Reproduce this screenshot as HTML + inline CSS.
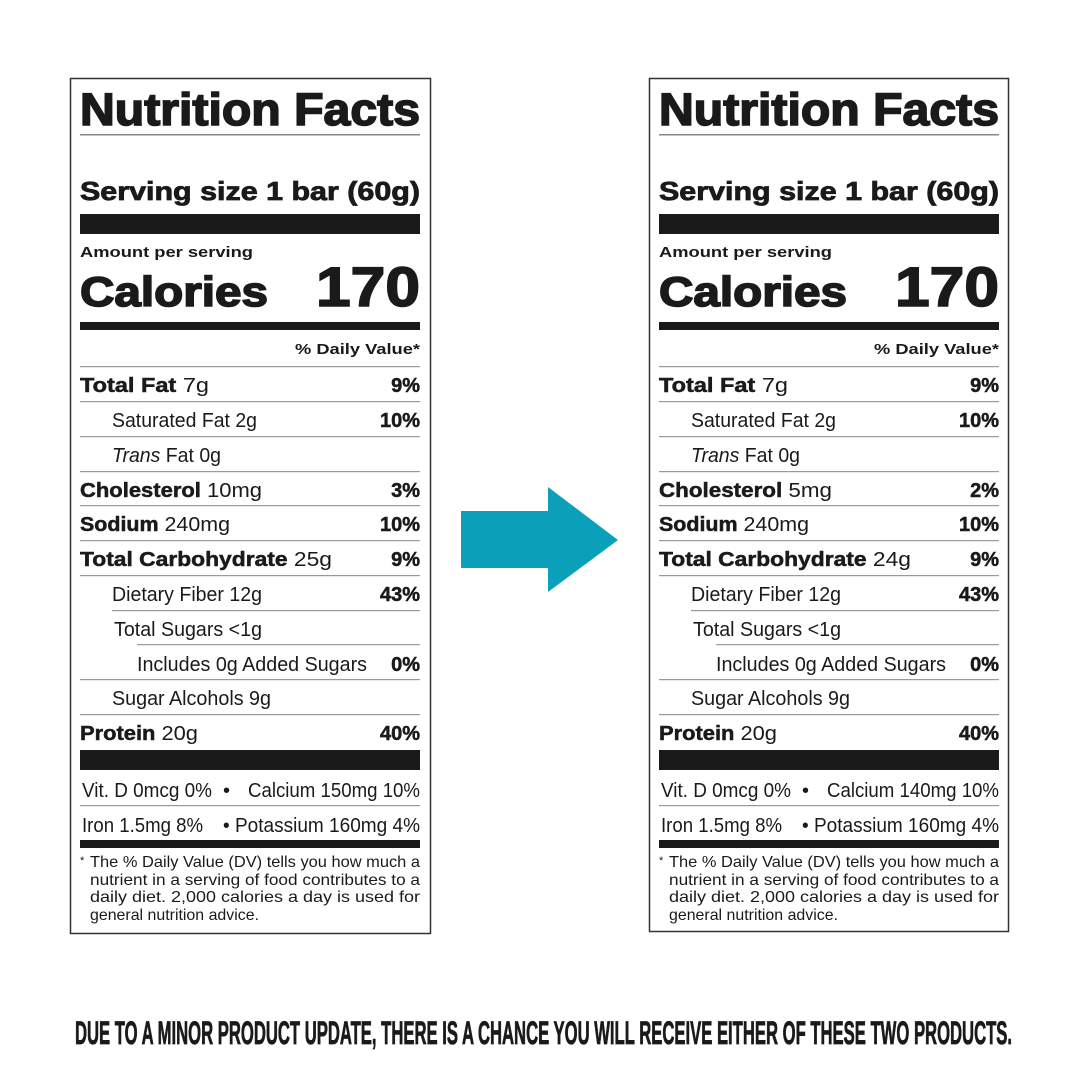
<!DOCTYPE html>
<html><head><meta charset="utf-8"><style>
html,body{margin:0;padding:0;background:#fff;}
svg{display:block;}
text{font-family:"Liberation Sans",sans-serif;fill:#1a1a1a;}
.b{font-weight:bold;}
.h{font-weight:bold;stroke:#1a1a1a;stroke-width:1.6;}
.hs{font-weight:bold;stroke:#1a1a1a;stroke-width:0.8;}
.bs{font-weight:bold;stroke:#1a1a1a;stroke-width:0.5;}
.r{font-size:20px;}
.p{font-size:20px;font-weight:bold;text-anchor:end;stroke:#1a1a1a;stroke-width:0.5;}
.f{font-size:16px;}
</style></head><body>
<svg width="1080" height="1080" viewBox="0 0 1080 1080" xmlns="http://www.w3.org/2000/svg">
<rect width="1080" height="1080" fill="#fff"/>

<!-- LEFT LABEL -->
<g>
<rect x="70.5" y="78.5" width="360" height="855" fill="none" stroke="#333" stroke-width="1.5"/>
<text x="80" y="125" font-size="45" class="h" textLength="340" lengthAdjust="spacingAndGlyphs">Nutrition Facts</text>
<rect x="80" y="134" width="340" height="1.5" fill="#888"/>
<text x="80" y="200" font-size="26" class="hs" textLength="340" lengthAdjust="spacingAndGlyphs">Serving size  1 bar (60g)</text>
<rect x="80" y="214" width="340" height="20" fill="#1a1a1a"/>
<text x="80" y="257" font-size="15" class="b" textLength="173" lengthAdjust="spacingAndGlyphs">Amount per serving</text>
<text x="80" y="306" font-size="42" class="h" textLength="188" lengthAdjust="spacingAndGlyphs">Calories</text>
<text x="420" y="306" font-size="56" class="h" text-anchor="end" textLength="104" lengthAdjust="spacingAndGlyphs">170</text>
<rect x="80" y="322" width="340" height="8" fill="#1a1a1a"/>
<text x="420" y="354" font-size="15" class="b" text-anchor="end" textLength="125" lengthAdjust="spacingAndGlyphs">% Daily Value*</text>
<g fill="#999">
<rect x="80" y="366" width="340" height="1.2"/><rect x="80" y="401" width="340" height="1.2"/>
<rect x="80" y="436" width="340" height="1.2"/><rect x="80" y="471" width="340" height="1.2"/>
<rect x="80" y="505" width="340" height="1.2"/><rect x="80" y="540" width="340" height="1.2"/>
<rect x="80" y="575" width="340" height="1.2"/><rect x="112" y="610" width="308" height="1.2"/>
<rect x="137" y="644" width="283" height="1.2"/><rect x="80" y="679" width="340" height="1.2"/>
<rect x="80" y="714" width="340" height="1.2"/><rect x="80" y="805" width="340" height="1.2"/>
</g>
<text x="80" y="392" class="r" textLength="129" lengthAdjust="spacingAndGlyphs"><tspan class="bs">Total Fat</tspan> 7g</text><text x="420" y="392" class="p">9%</text>
<text x="112" y="427" class="r" textLength="145" lengthAdjust="spacingAndGlyphs">Saturated Fat 2g</text><text x="420" y="427" class="p">10%</text>
<text x="112" y="462" class="r" textLength="109" lengthAdjust="spacingAndGlyphs"><tspan font-style="italic">Trans</tspan> Fat 0g</text>
<text x="80" y="497" class="r" textLength="182" lengthAdjust="spacingAndGlyphs"><tspan class="bs">Cholesterol</tspan> 10mg</text><text x="420" y="497" class="p">3%</text>
<text x="80" y="531" class="r" textLength="150" lengthAdjust="spacingAndGlyphs"><tspan class="bs">Sodium</tspan> 240mg</text><text x="420" y="531" class="p">10%</text>
<text x="80" y="566" class="r" textLength="252" lengthAdjust="spacingAndGlyphs"><tspan class="bs">Total Carbohydrate</tspan> 25g</text><text x="420" y="566" class="p">9%</text>
<text x="112" y="601" class="r" textLength="150" lengthAdjust="spacingAndGlyphs">Dietary Fiber 12g</text><text x="420" y="601" class="p">43%</text>
<text x="114" y="636" class="r" textLength="148" lengthAdjust="spacingAndGlyphs">Total Sugars &lt;1g</text>
<text x="137" y="671" class="r" textLength="230" lengthAdjust="spacingAndGlyphs">Includes 0g Added Sugars</text><text x="420" y="671" class="p">0%</text>
<text x="112" y="705" class="r" textLength="159" lengthAdjust="spacingAndGlyphs">Sugar Alcohols 9g</text>
<text x="80" y="740" class="r" textLength="118" lengthAdjust="spacingAndGlyphs"><tspan class="bs">Protein</tspan> 20g</text><text x="420" y="740" class="p">40%</text>
<rect x="80" y="750" width="340" height="20" fill="#1a1a1a"/>
<text x="82" y="797" class="r" textLength="130" lengthAdjust="spacingAndGlyphs">Vit. D 0mcg 0%</text>
<text x="223" y="797" class="r">•</text>
<text x="248" y="797" class="r" textLength="172" lengthAdjust="spacingAndGlyphs">Calcium 150mg 10%</text>
<text x="82" y="832" class="r" textLength="121" lengthAdjust="spacingAndGlyphs">Iron 1.5mg 8%</text>
<text x="223" y="832" class="r" textLength="197" lengthAdjust="spacingAndGlyphs">• Potassium 160mg 4%</text>
<rect x="80" y="840" width="340" height="8" fill="#1a1a1a"/>
<text x="80" y="864" font-size="11">*</text>
<text x="90" y="867" class="f" textLength="330" lengthAdjust="spacingAndGlyphs">The % Daily Value (DV) tells you how much a</text>
<text x="90" y="885" class="f" textLength="330" lengthAdjust="spacingAndGlyphs">nutrient in a serving of food contributes to a</text>
<text x="90" y="902" class="f" textLength="330" lengthAdjust="spacingAndGlyphs">daily diet. 2,000 calories a day is used for</text>
<text x="90" y="920" class="f" textLength="169" lengthAdjust="spacingAndGlyphs">general nutrition advice.</text>
</g>

<!-- ARROW -->
<polygon points="461,511 548,511 548,487 618,540 548,592 548,568 461,568" fill="#0aa0b9"/>

<!-- RIGHT LABEL -->
<g transform="translate(579,0)">
<rect x="70.5" y="78.5" width="359" height="853" fill="none" stroke="#333" stroke-width="1.5"/>
<text x="80" y="125" font-size="45" class="h" textLength="340" lengthAdjust="spacingAndGlyphs">Nutrition Facts</text>
<rect x="80" y="134" width="340" height="1.5" fill="#888"/>
<text x="80" y="200" font-size="26" class="hs" textLength="340" lengthAdjust="spacingAndGlyphs">Serving size  1 bar (60g)</text>
<rect x="80" y="214" width="340" height="20" fill="#1a1a1a"/>
<text x="80" y="257" font-size="15" class="b" textLength="173" lengthAdjust="spacingAndGlyphs">Amount per serving</text>
<text x="80" y="306" font-size="42" class="h" textLength="188" lengthAdjust="spacingAndGlyphs">Calories</text>
<text x="420" y="306" font-size="56" class="h" text-anchor="end" textLength="104" lengthAdjust="spacingAndGlyphs">170</text>
<rect x="80" y="322" width="340" height="8" fill="#1a1a1a"/>
<text x="420" y="354" font-size="15" class="b" text-anchor="end" textLength="125" lengthAdjust="spacingAndGlyphs">% Daily Value*</text>
<g fill="#999">
<rect x="80" y="366" width="340" height="1.2"/><rect x="80" y="401" width="340" height="1.2"/>
<rect x="80" y="436" width="340" height="1.2"/><rect x="80" y="471" width="340" height="1.2"/>
<rect x="80" y="505" width="340" height="1.2"/><rect x="80" y="540" width="340" height="1.2"/>
<rect x="80" y="575" width="340" height="1.2"/><rect x="112" y="610" width="308" height="1.2"/>
<rect x="137" y="644" width="283" height="1.2"/><rect x="80" y="679" width="340" height="1.2"/>
<rect x="80" y="714" width="340" height="1.2"/><rect x="80" y="805" width="340" height="1.2"/>
</g>
<text x="80" y="392" class="r" textLength="129" lengthAdjust="spacingAndGlyphs"><tspan class="bs">Total Fat</tspan> 7g</text><text x="420" y="392" class="p">9%</text>
<text x="112" y="427" class="r" textLength="145" lengthAdjust="spacingAndGlyphs">Saturated Fat 2g</text><text x="420" y="427" class="p">10%</text>
<text x="112" y="462" class="r" textLength="109" lengthAdjust="spacingAndGlyphs"><tspan font-style="italic">Trans</tspan> Fat 0g</text>
<text x="80" y="497" class="r" textLength="173" lengthAdjust="spacingAndGlyphs"><tspan class="bs">Cholesterol</tspan> 5mg</text><text x="420" y="497" class="p">2%</text>
<text x="80" y="531" class="r" textLength="150" lengthAdjust="spacingAndGlyphs"><tspan class="bs">Sodium</tspan> 240mg</text><text x="420" y="531" class="p">10%</text>
<text x="80" y="566" class="r" textLength="252" lengthAdjust="spacingAndGlyphs"><tspan class="bs">Total Carbohydrate</tspan> 24g</text><text x="420" y="566" class="p">9%</text>
<text x="112" y="601" class="r" textLength="150" lengthAdjust="spacingAndGlyphs">Dietary Fiber 12g</text><text x="420" y="601" class="p">43%</text>
<text x="114" y="636" class="r" textLength="148" lengthAdjust="spacingAndGlyphs">Total Sugars &lt;1g</text>
<text x="137" y="671" class="r" textLength="230" lengthAdjust="spacingAndGlyphs">Includes 0g Added Sugars</text><text x="420" y="671" class="p">0%</text>
<text x="112" y="705" class="r" textLength="159" lengthAdjust="spacingAndGlyphs">Sugar Alcohols 9g</text>
<text x="80" y="740" class="r" textLength="118" lengthAdjust="spacingAndGlyphs"><tspan class="bs">Protein</tspan> 20g</text><text x="420" y="740" class="p">40%</text>
<rect x="80" y="750" width="340" height="20" fill="#1a1a1a"/>
<text x="82" y="797" class="r" textLength="130" lengthAdjust="spacingAndGlyphs">Vit. D 0mcg 0%</text>
<text x="223" y="797" class="r">•</text>
<text x="248" y="797" class="r" textLength="172" lengthAdjust="spacingAndGlyphs">Calcium 140mg 10%</text>
<text x="82" y="832" class="r" textLength="121" lengthAdjust="spacingAndGlyphs">Iron 1.5mg 8%</text>
<text x="223" y="832" class="r" textLength="197" lengthAdjust="spacingAndGlyphs">• Potassium 160mg 4%</text>
<rect x="80" y="840" width="340" height="8" fill="#1a1a1a"/>
<text x="80" y="864" font-size="11">*</text>
<text x="90" y="867" class="f" textLength="330" lengthAdjust="spacingAndGlyphs">The % Daily Value (DV) tells you how much a</text>
<text x="90" y="885" class="f" textLength="330" lengthAdjust="spacingAndGlyphs">nutrient in a serving of food contributes to a</text>
<text x="90" y="902" class="f" textLength="330" lengthAdjust="spacingAndGlyphs">daily diet. 2,000 calories a day is used for</text>
<text x="90" y="920" class="f" textLength="169" lengthAdjust="spacingAndGlyphs">general nutrition advice.</text>
</g>

<text x="75" y="1044" font-size="32" class="b" stroke="#1a1a1a" stroke-width="0.8" textLength="937" lengthAdjust="spacingAndGlyphs">DUE TO A MINOR PRODUCT UPDATE, THERE IS A CHANCE YOU WILL RECEIVE EITHER OF THESE TWO PRODUCTS.</text>
</svg>
</body></html>
